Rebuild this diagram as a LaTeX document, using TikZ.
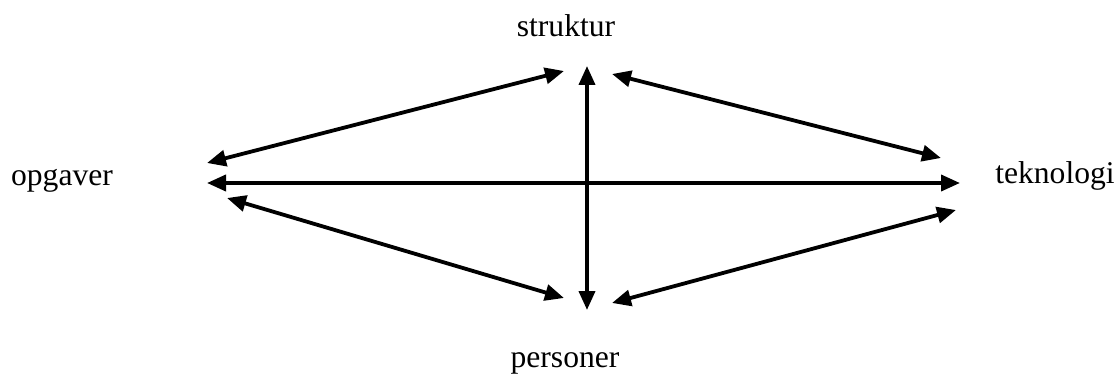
\documentclass[tikz,border=0pt]{standalone}
\usepackage{fontspec}
\setmainfont{Liberation Serif}
\usetikzlibrary{arrows.meta}

\begin{document}
\begin{tikzpicture}[
    x=0.5pt, y=-0.5pt,
    every node/.style={font=\fontsize{15.8}{19}\selectfont, inner sep=0pt, anchor=base},
    arrow/.style={{Triangle[length=9.5pt,width=8pt]}-{Triangle[length=9.5pt,width=8pt]}, line width=1.9pt}
]
    \useasboundingbox (0,0) rectangle (1115,374);

    % Nodes
    \node (opg) at (62,185) {opgaver};
    \node (tek) at (1055,184) {teknologi};
    \node (str) at (566,37) {struktur};
    \node (per) at (565,367) {personer};

    % Arrow ends
    \coordinate (opgH) at (207,183);
    \coordinate (tekH) at (960,183);
    \coordinate (strV) at (587,66);
    \coordinate (perV) at (587,310);
    \coordinate (opgT) at (207,163);
    \coordinate (strL) at (564,71);
    \coordinate (strR) at (612,74);
    \coordinate (tekT) at (941,158);
    \coordinate (opgB) at (227,198);
    \coordinate (perL) at (564,298);
    \coordinate (perR) at (612,303);
    \coordinate (tekB) at (956,210);

    % Edges
    \draw[arrow] (opgH) -- (tekH);
    \draw[arrow] (strV) -- (perV);
    \draw[arrow] (opgT) -- (strL);
    \draw[arrow] (strR) -- (tekT);
    \draw[arrow] (opgB) -- (perL);
    \draw[arrow] (perR) -- (tekB);
\end{tikzpicture}
\end{document}
